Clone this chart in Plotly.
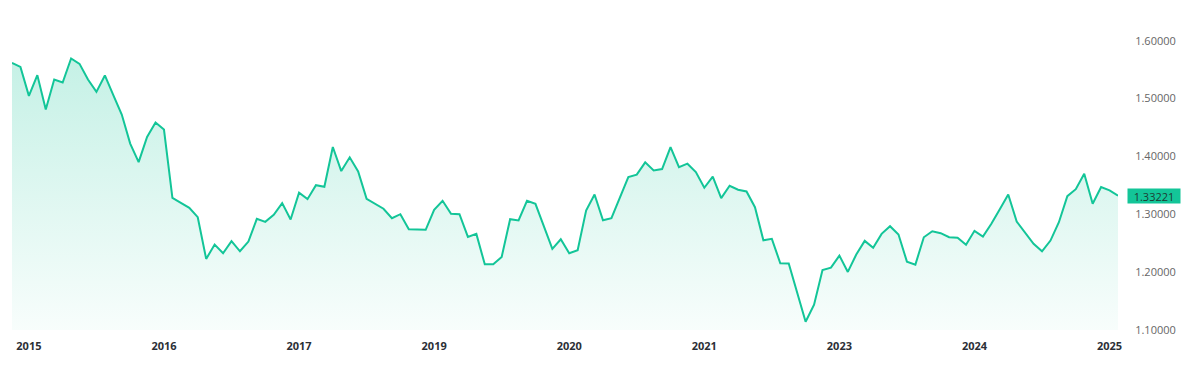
import plotly.graph_objects as go

# Rate values, one per period
rates = [
    1.5619, 1.5549, 1.5047, 1.5406, 1.4811, 1.5331, 1.5279, 1.5695, 1.5601, 1.5331,
    1.5116, 1.5400, 1.5059, 1.4724, 1.4222, 1.3903, 1.4336, 1.4586, 1.4465, 1.3286,
    1.3199, 1.3113, 1.2950, 1.2229, 1.2477, 1.2326, 1.2537, 1.2361, 1.2529, 1.2922,
    1.2870, 1.2991, 1.3193, 1.2910, 1.3373, 1.3262, 1.3504, 1.3477, 1.4163, 1.3747,
    1.3985, 1.3742, 1.3269, 1.3182, 1.3096, 1.2933, 1.3002, 1.2742, 1.2737, 1.2732,
    1.3078, 1.3234, 1.3009, 1.3002, 1.2610, 1.2662, 1.2135, 1.2135, 1.2264, 1.2915,
    1.2893, 1.3234, 1.3182, 1.2789, 1.2402, 1.2569, 1.2326, 1.2378, 1.3066, 1.3343,
    1.2898, 1.2933, 1.3297, 1.3643, 1.3685, 1.3898, 1.3759, 1.3782, 1.4163, 1.3816,
    1.3875, 1.3730, 1.3459, 1.3650, 1.3279, 1.3494, 1.3425, 1.3395, 1.3123, 1.2551,
    1.2576, 1.2153, 1.2148, 1.1650, 1.1142, 1.1437, 1.2038, 1.2078, 1.2286, 1.2004,
    1.2304, 1.2541, 1.2420, 1.2662, 1.2794, 1.2650, 1.2182, 1.2130, 1.2603, 1.2707,
    1.2673, 1.2603, 1.2593, 1.2472, 1.2714, 1.2615, 1.2836, 1.3089, 1.3343, 1.2875,
    1.2690, 1.2489, 1.2361, 1.2546, 1.2863, 1.3314, 1.3435, 1.3702, 1.3182, 1.3470,
    1.3413, 1.33221,
]
periods = list(range(len(rates)))

# x-axis year labels (one every 16 periods, starting at period 2)
year_labels = ["2015", "2016", "2017", "2019", "2020", "2021", "2023", "2024", "2025"]
year_ticks = [2 + 16 * i for i in range(len(year_labels))]

# y-axis ticks
y_ticks = [1.1, 1.2, 1.3, 1.4, 1.5, 1.6]

LINE = "#13c598"

fig = go.Figure()
fig.add_trace(go.Scatter(
    x=periods, y=rates, mode="lines",
    line=dict(color=LINE, width=2),
    fill="tozeroy",
    fillgradient=dict(
        type="vertical", start=1.1, stop=1.6,
        colorscale=[[0, "rgba(19,197,152,0.03)"], [1, "rgba(19,197,152,0.26)"]],
    ),
    hoverinfo="skip",
    showlegend=False,
))

fig.add_annotation(
    xref="paper", x=1, xanchor="left", xshift=9,
    yref="y", y=rates[-1], yanchor="middle",
    text=f"{rates[-1]:.5f}", showarrow=False,
    bgcolor="#13c598", width=50, height=12, borderpad=1,
    font=dict(family="Open Sans, sans-serif", size=11, color="#1d3b33"),
)

fig.update_layout(
    width=1188, height=370,
    margin=dict(l=4, r=78, t=2, b=48),
    paper_bgcolor="white", plot_bgcolor="white",
    xaxis=dict(
        range=[0, len(rates) - 1],
        tickvals=year_ticks, ticktext=year_labels,
        showgrid=False, zeroline=False, showline=False,
        ticks="outside", ticklen=6, tickcolor="rgba(0,0,0,0)",
        tickfont=dict(family="Open Sans, sans-serif", size=11, color="#2b2f36", weight="bold"),
    ),
    yaxis=dict(
        side="right", range=[1.1, 1.6532],
        tickvals=y_ticks, tickformat=".5f",
        showgrid=False, zeroline=False, showline=False,
        ticks="outside", ticklen=14, tickcolor="rgba(0,0,0,0)",
        tickfont=dict(family="Open Sans, sans-serif", size=11, color="#666666"),
    ),
)

fig.write_html("out.html")
